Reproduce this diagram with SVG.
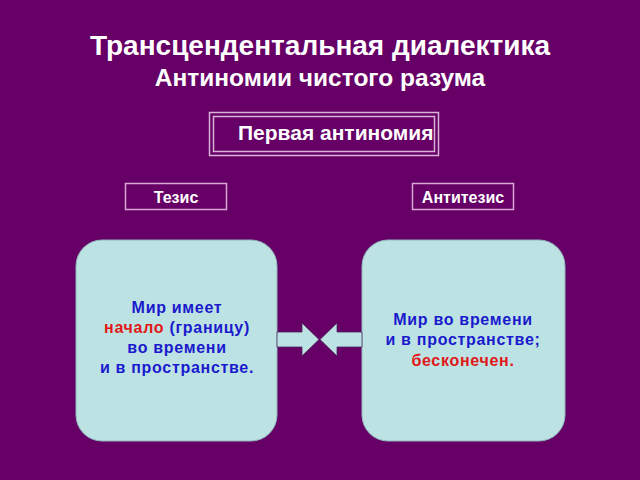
<svg xmlns="http://www.w3.org/2000/svg" width="640" height="480" viewBox="0 0 640 480">
<style>
.t{font-family:"Liberation Sans",Arial,sans-serif;font-weight:bold;text-anchor:middle}
.w{fill:#ffffff}
.blue{fill:#1a1acc}
.red{fill:#e01818}
.lbl{fill:none;stroke:#d8a8d8;stroke-width:1.5}
.card{fill:#bde2e4;stroke:#8fb8bc;stroke-width:1}
.arr{fill:#bde2e4;stroke:#4a2a5a;stroke-width:0.8}
.ct{font-size:16px;letter-spacing:0.7px}
</style>
<rect width="640" height="480" fill="#660066"/>
<g id="title">
<text class="t w" x="320" y="55" font-size="28">Трансцендентальная диалектика</text>
<text class="t w" x="320" y="86" font-size="24.5">Антиномии чистого разума</text>
</g>
<g id="first">
<rect x="209.5" y="112.5" width="229" height="43" fill="none" stroke="#d8b0d8" stroke-width="1.5"/>
<rect x="213.5" y="116.5" width="221" height="35" fill="none" stroke="#d8b0d8" stroke-width="1.5"/>
<text class="t w" x="238" y="140" font-size="21" style="text-anchor:start">Первая антиномия</text>
</g>
<g id="thesis-label">
<rect class="lbl" x="125.5" y="183.5" width="101" height="26"/>
<text class="t w" x="176" y="203" font-size="16">Тезис</text>
</g>
<g id="antithesis-label">
<rect class="lbl" x="412.5" y="183.5" width="101" height="26"/>
<text class="t w" x="463" y="203" font-size="16">Антитезис</text>
</g>
<g id="thesis">
<rect class="card" x="76" y="240" width="201" height="201" rx="26"/>
<text class="t blue ct" x="177" y="313">Мир имеет</text>
<text class="t blue ct" x="177" y="333"><tspan class="red">начало</tspan> (границу)</text>
<text class="t blue ct" x="177" y="353">во времени</text>
<text class="t blue ct" x="177" y="373">и в пространстве.</text>
</g>
<g id="antithesis">
<rect class="card" x="362" y="240" width="203" height="201" rx="26"/>
<text class="t blue ct" x="463" y="325">Мир во времени</text>
<text class="t blue ct" x="463" y="345">и  в пространстве;</text>
<text class="t red ct" x="463" y="366">бесконечен.</text>
</g>
<g id="connectors">
<path class="arr" d="M277,332 H302 V323 L319,339.5 L302,356 V347 H277 Z"/>
<path class="arr" d="M362,332 H337 V323 L320,339.5 L337,356 V347 H362 Z"/>
</g>
</svg>
